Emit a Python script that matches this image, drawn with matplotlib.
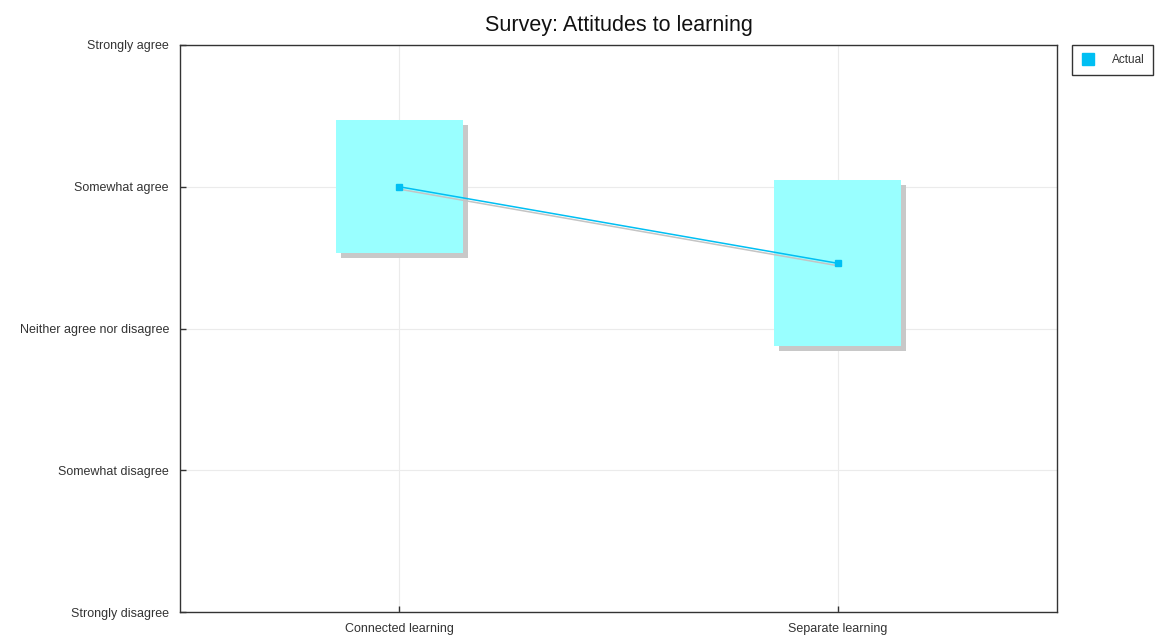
import numpy as np
import matplotlib
matplotlib.use("Agg")
import matplotlib.pyplot as plt
import matplotlib.patches as mpatches
import matplotlib.patheffects as pe
from matplotlib.lines import Line2D

plt.rcParams['font.family'] = ['Liberation Sans', 'DejaVu Sans']

################### Datos ###################
categories = ["Connected learning", "Separate learning"]
means = [4.0, 3.46]
spreads = [0.47, 0.585]
scale_labels = ["Strongly disagree", "Somewhat disagree", "Neither agree nor disagree",
                "Somewhat agree", "Strongly agree"]
scale_values = [1, 2, 3, 4, 5]

line_col = "#00bff3"
box_col = "#99ffff"
shadow_col = "#c8c8c8"
text_col = "#333333"

################### Figura ###################
fig = plt.figure(figsize=(11.56, 6.42), dpi=100)
ax = fig.add_axes([180/1156, 30/642, 877/1156, 567/642])

x = np.arange(len(categories))
box_w = 0.29
for xi, m, s in zip(x, means, spreads):
    rect = mpatches.Rectangle((xi - box_w/2, m - s), box_w, 2*s,
                              facecolor=box_col, edgecolor="none", zorder=2,
                              path_effects=[pe.SimplePatchShadow(offset=(3.5, -3.5),
                                                                 shadow_rgbFace=shadow_col, alpha=1),
                                            pe.Normal()])
    ax.add_patch(rect)

# sombra de la linea (sin marcadores)
ax.plot(x, means, color=line_col, lw=1.1, zorder=3,
        path_effects=[pe.SimpleLineShadow(offset=(1.5, -2), shadow_color="#c4c4c4", alpha=1),
                      pe.Normal()])
ax.plot(x, means, color=line_col, lw=0, marker="s", ms=4.5, zorder=4)

ax.set_xlim(-0.5, 1.5)
ax.set_ylim(1, 5)
ax.set_xticks(x)
ax.set_xticklabels(categories, fontsize=9, color=text_col)
ax.set_yticks(scale_values)
ax.set_yticklabels(scale_labels, fontsize=9, color=text_col)
ax.tick_params(axis="y", direction="in", length=4, width=1, color="#333333", pad=8)
ax.tick_params(axis="x", direction="in", length=4, width=1, color="#333333", pad=8)
ax.grid(True, color="#ebebeb", lw=0.8, zorder=0)
ax.set_axisbelow(True)
for sp in ax.spines.values():
    sp.set_color("#333333")
    sp.set_linewidth(1)

fig.text(ax.get_position().x0 + ax.get_position().width/2, 1 - 31/642,
         "Survey: Attitudes to learning", ha="center", va="baseline", fontsize=15.5,
         color="#111111")

handle = Line2D([], [], color=line_col, marker="s", ls="none", ms=8.5)
leg = fig.legend([handle], ["Actual"], loc="upper left",
                 bbox_to_anchor=(1072/1156, 1 - 45/642), borderaxespad=0, fontsize=8.5,
                 fancybox=False, framealpha=1, edgecolor="#333333",
                 handlelength=1.2, handletextpad=1.4, borderpad=0.75, labelcolor=text_col)
leg.get_frame().set_linewidth(1)

fig.savefig("out.png", dpi=100)
